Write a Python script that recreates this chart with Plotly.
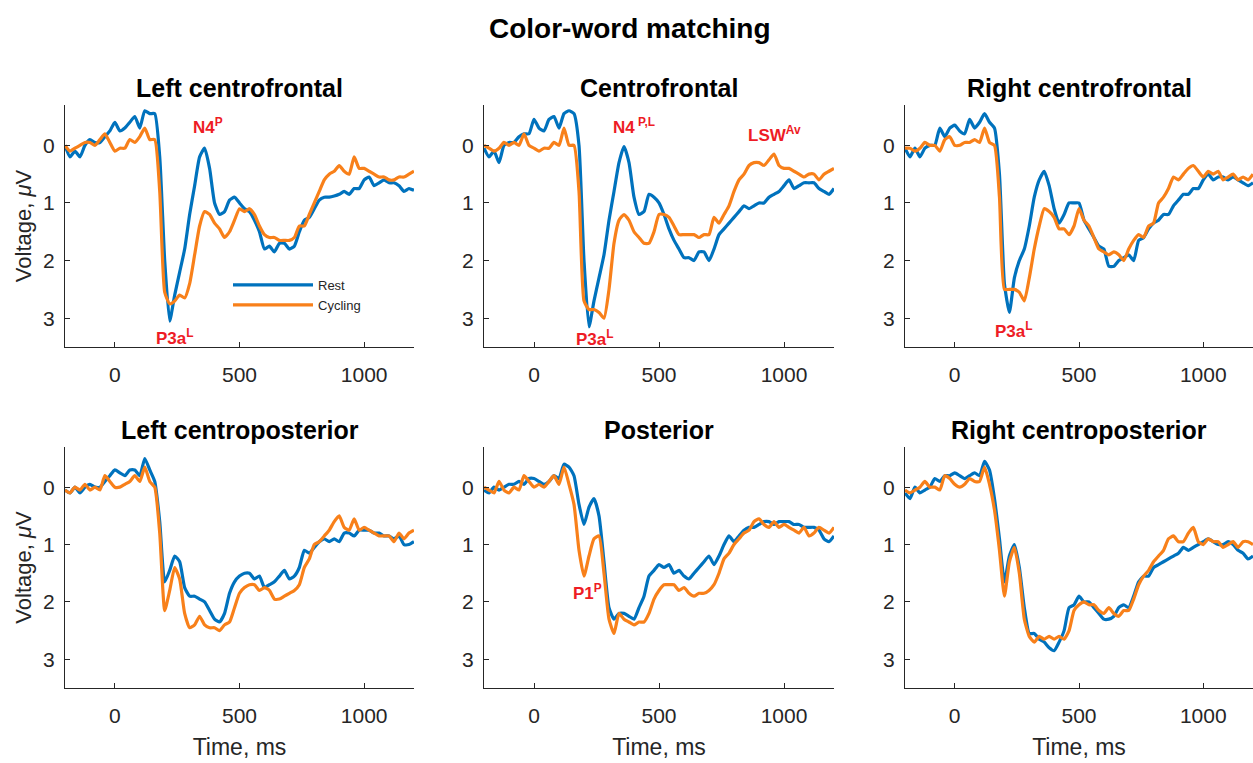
import plotly.graph_objects as go

# ---------------- data ----------------
time_ms = list(range(-200, 1201, 20))

panel_titles = ["Left centrofrontal", "Centrofrontal", "Right centrofrontal",
                "Left centroposterior", "Posterior", "Right centroposterior"]

rest_lcf = [0.0, 0.2, 0.1, 0.2, 0.0, -0.1, -0.05, -0.05, -0.15, -0.25,
            -0.4, -0.25, -0.3, -0.4, -0.5, -0.3, -0.6, -0.55, -0.55, 0.2,
            2.0, 3.05, 2.6, 2.2, 1.8, 1.2, 0.7, 0.2, 0.05, 0.4,
            1.0, 1.2, 1.15, 0.95, 0.9, 1.0, 1.1, 1.15, 1.3, 1.5,
            1.8, 1.75, 1.85, 1.7, 1.7, 1.8, 1.75, 1.5, 1.3, 1.25,
            1.1, 0.95, 0.9, 0.9, 0.88, 0.85, 0.8, 0.85, 0.75, 0.75,
            0.6, 0.55, 0.7, 0.65, 0.6, 0.65, 0.65, 0.7, 0.8, 0.75,
            0.78]
cyc_lcf = [0.0, 0.1, 0.05, 0.0, -0.05, -0.05, 0.0, -0.1, -0.2, -0.05,
           0.1, 0.05, 0.05, -0.1, -0.05, -0.15, -0.3, -0.1, -0.1, 0.8,
           2.55, 2.75, 2.7, 2.6, 2.65, 2.4, 1.9, 1.4, 1.15, 1.2,
           1.35, 1.45, 1.6, 1.5, 1.3, 1.1, 1.15, 1.1, 1.2, 1.4,
           1.55, 1.6, 1.6, 1.65, 1.65, 1.65, 1.6, 1.4, 1.4, 1.2,
           1.0, 0.8, 0.6, 0.5, 0.45, 0.35, 0.45, 0.5, 0.2, 0.4,
           0.4, 0.45, 0.5, 0.55, 0.55, 0.6, 0.6, 0.55, 0.55, 0.5,
           0.45]

rest_cf = [0.05, 0.2, 0.1, 0.3, 0.0, -0.05, -0.05, -0.15, -0.2, -0.2,
           -0.45, -0.3, -0.25, -0.45, -0.5, -0.3, -0.55, -0.6, -0.55, 0.0,
           2.0, 3.15, 2.7, 2.3, 1.9, 1.3, 0.8, 0.3, 0.02, 0.3,
           0.9, 1.2, 1.15, 0.85, 0.9, 1.0, 1.2, 1.45, 1.65, 1.8,
           1.95, 1.95, 2.0, 1.85, 1.85, 2.0, 1.8, 1.55, 1.45, 1.35,
           1.25, 1.15, 1.05, 1.1, 1.05, 1.0, 1.0, 0.9, 0.85, 0.8,
           0.7, 0.6, 0.75, 0.7, 0.65, 0.65, 0.65, 0.75, 0.8, 0.85,
           0.75]
cyc_cf = [0.0, 0.05, 0.1, 0.05, -0.05, 0.0, -0.05, 0.0, -0.2, 0.0,
          0.05, 0.1, 0.05, 0.05, -0.05, 0.0, -0.3, 0.0, 0.0, 0.8,
          2.7, 2.85, 2.85, 2.9, 3.0, 2.5, 1.7, 1.3, 1.2, 1.3,
          1.5, 1.6, 1.7, 1.7, 1.5, 1.2, 1.2, 1.25, 1.4, 1.55,
          1.55, 1.55, 1.55, 1.6, 1.55, 1.55, 1.25, 1.35, 1.2, 1.05,
          0.8, 0.6, 0.5, 0.35, 0.3, 0.3, 0.35, 0.25, 0.15, 0.35,
          0.4, 0.4, 0.45, 0.5, 0.55, 0.5, 0.5, 0.6, 0.5, 0.45,
          0.4]

rest_rcf = [0.05, 0.2, 0.05, 0.2, 0.05, 0.0, 0.0, -0.3, -0.15, -0.3,
            -0.35, -0.25, -0.2, -0.45, -0.3, -0.4, -0.55, -0.4, -0.3, 0.5,
            2.4, 2.9, 2.3, 2.0, 1.8, 1.4, 0.9, 0.6, 0.45, 0.7,
            1.1, 1.35, 1.2, 1.0, 1.0, 1.0, 1.3, 1.45, 1.6, 1.75,
            1.8, 2.1, 2.1, 2.0, 1.95, 1.9, 2.0, 1.65, 1.6, 1.45,
            1.35, 1.3, 1.2, 1.2, 1.05, 0.95, 0.85, 0.85, 0.75, 0.75,
            0.6, 0.5, 0.6, 0.55, 0.55, 0.6, 0.55, 0.6, 0.65, 0.7,
            0.65]
cyc_rcf = [0.05, 0.05, 0.1, 0.05, -0.05, 0.0, 0.0, 0.1, -0.1, -0.15,
           0.0, 0.0, -0.05, -0.05, -0.1, -0.05, -0.3, -0.05, 0.0, 0.9,
           2.5, 2.5, 2.5, 2.55, 2.7, 2.3, 1.8, 1.4, 1.1, 1.15,
           1.25, 1.45, 1.45, 1.55, 1.4, 1.1, 1.3, 1.4, 1.6, 1.8,
           1.85, 1.9, 1.85, 1.9, 2.0, 1.8, 1.65, 1.55, 1.6, 1.4,
           1.35, 1.0, 0.9, 0.75, 0.55, 0.6, 0.5, 0.4, 0.35, 0.45,
           0.55, 0.45, 0.5, 0.45, 0.6, 0.55, 0.5, 0.6, 0.55, 0.6,
           0.5]

rest_lcp = [0.05, 0.1, 0.0, 0.1, 0.0, -0.05, 0.0, 0.0, -0.1, -0.2,
            -0.3, -0.25, -0.2, -0.3, -0.3, -0.2, -0.5, -0.3, -0.1, 0.6,
            1.65, 1.45, 1.2, 1.3, 1.75, 1.9, 1.9, 1.95, 2.0, 2.15,
            2.3, 2.35, 2.2, 1.85, 1.65, 1.55, 1.5, 1.5, 1.6, 1.55,
            1.75, 1.7, 1.65, 1.55, 1.45, 1.6, 1.55, 1.4, 1.1, 1.15,
            1.05, 0.95, 0.9, 0.95, 0.9, 0.95, 0.8, 0.8, 0.85, 0.75,
            0.75, 0.75, 0.8, 0.8, 0.85, 0.85, 0.9, 0.85, 1.0, 1.0,
            0.95]
cyc_lcp = [0.05, 0.1, 0.0, 0.05, -0.05, 0.05, 0.0, 0.05, -0.2, -0.1,
           0.0, 0.0, -0.05, -0.1, -0.2, -0.1, -0.35, -0.1, 0.0, 0.8,
           2.15, 1.8, 1.4, 1.6, 2.2, 2.45, 2.4, 2.25, 2.4, 2.45,
           2.45, 2.5, 2.4, 2.35, 2.1, 1.85, 1.75, 1.7, 1.7, 1.8,
           1.75, 1.8, 1.95, 1.95, 1.9, 1.85, 1.8, 1.7, 1.4, 1.25,
           1.0, 0.95, 0.85, 0.75, 0.6, 0.5, 0.7, 0.75, 0.55, 0.75,
           0.7, 0.75, 0.8, 0.85, 0.85, 0.85, 0.95, 0.8, 0.9, 0.8,
           0.75]

rest_post = [0.05, 0.1, 0.0, 0.05, 0.0, -0.05, -0.05, -0.1, -0.05, -0.15,
             -0.15, -0.1, -0.05, -0.1, -0.2, -0.15, -0.4, -0.35, -0.2, 0.3,
             0.65, 0.35, 0.2, 0.5, 1.3, 2.1, 2.3, 2.2, 2.2, 2.25,
             2.3, 2.1, 1.9, 1.55, 1.45, 1.35, 1.4, 1.35, 1.5, 1.45,
             1.55, 1.6, 1.5, 1.4, 1.3, 1.2, 1.35, 1.2, 1.0, 0.85,
             0.95, 0.85, 0.75, 0.7, 0.7, 0.65, 0.6, 0.6, 0.65, 0.6,
             0.6, 0.6, 0.65, 0.65, 0.7, 0.7, 0.7, 0.75, 0.9, 0.95,
             0.85]
cyc_post = [0.0, 0.05, 0.1, -0.1, 0.05, 0.1, 0.0, 0.05, -0.2, -0.1,
            0.0, -0.05, 0.0, -0.1, -0.2, -0.05, -0.35, -0.05, 0.3, 1.1,
            1.55, 1.2, 0.9, 0.85, 1.5, 2.3, 2.55, 2.2, 2.3, 2.35,
            2.4, 2.35, 2.35, 2.2, 1.95, 1.8, 1.7, 1.7, 1.7, 1.8,
            1.75, 1.85, 1.9, 1.85, 1.85, 1.8, 1.7, 1.5, 1.25, 1.15,
            1.0, 0.9, 0.8, 0.75, 0.6, 0.55, 0.65, 0.7, 0.6, 0.7,
            0.65, 0.7, 0.75, 0.8, 0.7, 0.85, 0.8, 0.7, 0.75, 0.8,
            0.7]

rest_rcp = [0.1, 0.2, 0.0, 0.1, 0.05, 0.0, -0.15, -0.1, -0.2, -0.2,
            -0.25, -0.2, -0.15, -0.2, -0.25, -0.2, -0.45, -0.3, 0.2, 0.9,
            1.65, 1.2, 1.0, 1.4, 2.1, 2.55, 2.55, 2.65, 2.7, 2.8,
            2.85, 2.7, 2.5, 2.1, 2.05, 1.9, 2.0, 2.0, 2.1, 2.2,
            2.3, 2.3, 2.25, 2.1, 2.05, 2.1, 1.9, 1.65, 1.55, 1.55,
            1.4, 1.35, 1.3, 1.25, 1.2, 1.15, 1.05, 1.1, 1.05, 1.0,
            0.95, 0.9, 0.95, 1.0, 1.0, 0.95, 1.0, 1.1, 1.15, 1.25,
            1.2]
cyc_rcp = [0.05, 0.1, 0.05, 0.0, -0.1, 0.0, 0.0, 0.05, -0.2, -0.15,
           -0.05, 0.0, -0.05, -0.15, -0.1, -0.1, -0.35, -0.05, 0.4, 1.1,
           1.9, 1.3, 1.05, 1.5, 2.3, 2.6, 2.7, 2.6, 2.65, 2.6,
           2.65, 2.6, 2.65, 2.5, 2.15, 2.05, 2.0, 2.05, 2.05, 2.15,
           2.2, 2.1, 2.2, 2.25, 2.15, 2.15, 1.95, 1.7, 1.55, 1.45,
           1.3, 1.2, 1.1, 0.9, 0.85, 0.95, 0.95, 0.8, 0.7, 0.95,
           1.0, 0.9, 0.95, 0.95, 1.05, 1.0, 0.95, 1.05, 0.95, 0.95,
           1.0]

rest_series = [rest_lcf, rest_cf, rest_rcf, rest_lcp, rest_post, rest_rcp]
cyc_series = [cyc_lcf, cyc_cf, cyc_rcf, cyc_lcp, cyc_post, cyc_rcp]

x_ticks = [0, 500, 1000]
y_ticks = [0, 1, 2, 3]

# component labels: panel index, text, time, voltage
lab_panel = [0, 0, 1, 1, 1, 2, 4]
lab_text = ["N4<sup>P</sup>", "P3a<sup>L</sup>", "N4<sup> P,L</sup>", "LSW<sup>Av</sup>",
            "P3a<sup>L</sup>", "P3a<sup>L</sup>", "P1<sup>P</sup>"]
lab_t = [375, 240, 400, 960, 245, 240, 215]
lab_v = [-0.33, 3.33, -0.33, -0.2, 3.35, 3.2, 1.83]

# ---------------- figure ----------------
W, H = 1253, 763
BLUE = "#0072BD"
ORANGE = "#F8801A"
INK = "#262626"
FONT = "Liberation Sans, Arial, sans-serif"

col_px = [(65, 414), (484, 834), (905, 1253)]
row_px = [(105, 347), (447, 688)]

fig = go.Figure()
layout = dict(
    width=W, height=H, paper_bgcolor="white", plot_bgcolor="white",
    margin=dict(l=0, r=0, t=0, b=0),
    font=dict(family=FONT, color=INK),
    showlegend=True,
    legend=dict(x=228 / W, y=1 - 270 / H, xanchor="left", yanchor="top",
                bgcolor="rgba(0,0,0,0)", font=dict(size=13, color=INK),
                itemwidth=80, tracegroupgap=0),
)
annotations = []

for i in range(6):
    r, c = divmod(i, 3)
    ax = "" if i == 0 else str(i + 1)
    x0, x1 = col_px[c]
    top, bot = row_px[r]
    fig.add_trace(go.Scatter(x=time_ms, y=rest_series[i], mode="lines", name="Rest",
                             line=dict(color=BLUE, width=3.2, shape="spline", smoothing=0.5),
                             xaxis="x" + ax, yaxis="y" + ax, showlegend=(i == 0)))
    fig.add_trace(go.Scatter(x=time_ms, y=cyc_series[i], mode="lines", name="Cycling",
                             line=dict(color=ORANGE, width=3.2, shape="spline", smoothing=0.5),
                             xaxis="x" + ax, yaxis="y" + ax, showlegend=(i == 0)))
    xa = dict(domain=[x0 / W, x1 / W], anchor="y" + ax, range=[-200, 1200],
              tickvals=x_ticks, ticks="inside", ticklen=5, tickcolor=INK, tickwidth=1.2,
              showline=True, linecolor=INK, linewidth=1.4, showgrid=False, zeroline=False,
              tickfont=dict(size=21, color=INK), ticklabelstandoff=9, automargin=False)
    ya = dict(domain=[1 - bot / H, 1 - top / H], anchor="x" + ax, range=[3.5, -0.7],
              tickvals=y_ticks, ticks="inside", ticklen=5, tickcolor=INK, tickwidth=1.2,
              showline=True, linecolor=INK, linewidth=1.4, showgrid=False, zeroline=False,
              tickfont=dict(size=21, color=INK), ticklabelstandoff=5, automargin=False)
    if r == 1:
        xa["title"] = dict(text="Time, ms", font=dict(size=23, color=INK), standoff=12)
    if c == 0:
        ya["title"] = dict(text="Voltage, <i>μ</i>V", font=dict(size=22, color=INK), standoff=5)
    layout["xaxis" + ax] = xa
    layout["yaxis" + ax] = ya
    annotations.append(dict(text="<b>" + panel_titles[i] + "</b>", xref="paper", yref="paper",
                            x=(x0 + x1) / 2 / W, y=1 - (top - 17) / H, showarrow=False,
                            xanchor="center", yanchor="middle",
                            font=dict(size=25, color="black")))

for p, txt, t, v in zip(lab_panel, lab_text, lab_t, lab_v):
    ax = "" if p == 0 else str(p + 1)
    annotations.append(dict(text="<b>" + txt + "</b>", xref="x" + ax, yref="y" + ax,
                            x=t, y=v, showarrow=False, xanchor="center", yanchor="middle",
                            font=dict(size=17, color="#EE1C25")))

annotations.append(dict(text="<b>Color-word matching</b>", xref="paper", yref="paper",
                        x=630 / W, y=1 - 28 / H, showarrow=False, xanchor="center",
                        yanchor="middle", font=dict(size=28, color="black")))
layout["annotations"] = annotations
fig.update_layout(**layout)
fig.write_html("out.html", config={"displayModeBar": False},
               post_script="document.body.style.margin='0';document.body.style.padding='0';")
